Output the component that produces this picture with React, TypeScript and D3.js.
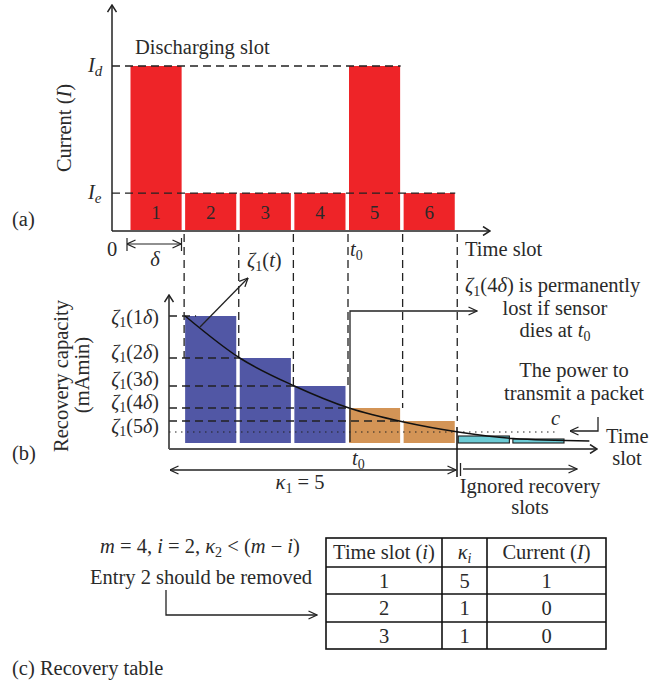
import * as d3 from 'd3';

// panel (a): current drawn in each time slot
const slots = [1, 2, 3, 4, 5, 6];
const slotCurrent = [1, 0.23, 0.23, 0.23, 1, 0.23];
const currentTickNames = ['d', 'e'];
const currentTickValues = [1, 0.23];

// panel (b): recovery capacity per slot
const recoverySlots = [2, 3, 4, 5, 6, 7, 8];
const recoveryValues = [133, 91, 63, 41, 28, 13, 10];
const recoveryKind = ['kept', 'kept', 'kept', 'lost', 'lost', 'ignored', 'ignored'];
const zetaNames = ['1', '2', '3', '4', '5'];
const zetaValues = [133, 91, 63, 41, 28];
const zetaLineEnds = [1.2, 2, 3, 4, 5];
const curveTimes = [1, 2, 3, 4, 5, 6, 7, 8.4];
const curveValues = [133, 91, 63, 41, 27, 17, 10.5, 8];
const guideTimes = [1, 2, 3, 4, 5, 6];
const guideEnds = [91, 91, 63, 63, 41, 28];
const packetCost = 17;

// panel (c): recovery table
const tableTimeSlot = ['1', '2', '3'];
const tableKappa = ['5', '1', '1'];
const tableCurrent = ['1', '0', '0'];

const INK = '#2a2a2a';
const FONT = "'Liberation Serif', 'Times New Roman', serif";
const kindColor: Record<string, string> = {
  kept: '#5157a5',
  lost: '#d39456',
  ignored: '#6ccbd5',
};

const slotX = d3.scaleLinear().domain([0, 8]).range([130.5, 567.5]);
const barW = slotX(1) - slotX(0) - 3.5;
const yA = d3.scaleLinear().domain([0, 1]).range([231, 66]);
const yB = d3.scaleLinear().domain([0, 160]).range([449, 289]);

// the zeta labels are spread apart so they do not collide
const zetaLabelBaselines = [324, 359, 386, 409, 433];
const dash = '8 5';

function Zeta({ x, y, k }: { x: number; y: number; k: string }) {
  return (
    <text x={x} y={y} textAnchor="end" fontSize={20}>
      <tspan fontStyle="italic">ζ</tspan>
      <tspan fontSize={14} dy={3}>1</tspan>
      <tspan dy={-3}>({k}</tspan>
      <tspan fontStyle="italic">δ</tspan>)
    </text>
  );
}

export default function App() {
  const curvePts = curveTimes.map((t, i) => [t, curveValues[i]] as [number, number]);
  const curve = d3
    .line<[number, number]>()
    .x((d) => slotX(d[0]))
    .y((d) => yB(d[1]))
    .curve(d3.curveMonotoneX);

  const colX = [326, 442, 487, 606];
  const rowY = [538, 567, 594, 622, 649];
  const tableRows = tableTimeSlot.map((s, i) => [s, tableKappa[i], tableCurrent[i]]);

  return (
    <svg
      width={670}
      height={684}
      style={{ position: 'absolute', left: 0, top: 0, background: '#fff' }}
      fontFamily={FONT}
      fontSize={20.5}
      fill={INK}
    >
      <defs>
        <marker id="arr" viewBox="0 0 10 10" refX="9.5" refY="5" markerWidth="10" markerHeight="10"
          markerUnits="userSpaceOnUse" orient="auto-start-reverse">
          <path d="M1,1 L9.5,5 L1,9" fill="none" stroke="#222" strokeWidth={1.3} />
        </marker>
        <marker id="axarr" viewBox="0 0 14 10" refX="13" refY="5" markerWidth="14" markerHeight="10"
          markerUnits="userSpaceOnUse" orient="auto-start-reverse">
          <path d="M6,0.5 L13,5 L6,9.5" fill="none" stroke="#222" strokeWidth={1.5} />
        </marker>
      </defs>

      {/* ---------- panel (a) ---------- */}
      {slots.map((s, i) => (
        <g key={s}>
          <rect x={slotX(s - 1)} y={yA(slotCurrent[i])} width={barW}
            height={yA(0) - 1 - yA(slotCurrent[i])} fill="#ee2428" />
          <text x={slotX(s - 1) + barW / 2} y={219} textAnchor="middle" fontSize={19}>{s}</text>
        </g>
      ))}
      <line x1={112} x2={slotX(5) - 3} y1={yA(currentTickValues[0])} y2={yA(currentTickValues[0])}
        stroke="#222" strokeWidth={1.3} strokeDasharray={dash} />
      <line x1={112} x2={slotX(6) - 3} y1={yA(currentTickValues[1])} y2={yA(currentTickValues[1])}
        stroke="#222" strokeWidth={1.3} strokeDasharray={dash} />
      {currentTickNames.map((n, i) => (
        <text key={n} x={88} y={yA(currentTickValues[i]) + 6}>
          <tspan fontStyle="italic">I</tspan>
          <tspan fontStyle="italic" fontSize={15} dy={4}>{n}</tspan>
        </text>
      ))}
      <line x1={112} y1={yA(0)} x2={112} y2={5} stroke="#222" strokeWidth={1.5} markerEnd="url(#axarr)" />
      <line x1={112} y1={yA(0)} x2={490} y2={yA(0)} stroke="#222" strokeWidth={1.5} markerEnd="url(#axarr)" />
      <text x={135} y={54}>Discharging slot</text>
      <text transform="translate(71,128) rotate(-90)" textAnchor="middle">
        Current (<tspan fontStyle="italic">I</tspan>)
      </text>
      <text x={12} y={226}>(a)</text>
      <text x={112} y={256} textAnchor="middle">0</text>
      <line x1={127} x2={127} y1={238} y2={251} stroke="#222" strokeWidth={1.2} />
      <line x1={127} x2={181} y1={244} y2={244} stroke="#222" strokeWidth={1.2}
        markerStart="url(#arr)" markerEnd="url(#arr)" />
      <line x1={181.5} x2={181.5} y1={238} y2={251} stroke="#222" strokeWidth={1.2} />
      <text x={155} y={266} textAnchor="middle" fontStyle="italic">δ</text>
      <text x={350} y={256}>
        <tspan fontStyle="italic">t</tspan>
        <tspan fontSize={14} dy={4}>0</tspan>
      </text>
      <text x={465} y={256}>Time slot</text>

      {/* ---------- panel (b) ---------- */}
      {recoverySlots.map((s, i) => (
        <rect key={s} x={slotX(s - 1)} y={yB(recoveryValues[i])} width={barW}
          height={yB(0) - 6 - yB(recoveryValues[i])} fill={kindColor[recoveryKind[i]]}
          stroke={recoveryKind[i] === 'ignored' ? '#1c1c1c' : 'none'} strokeWidth={1.1} />
      ))}
      {guideTimes.map((t, i) => (
        <line key={t} x1={slotX(t) - 1} x2={slotX(t) - 1} y1={234} y2={yB(guideEnds[i])}
          stroke="#222" strokeWidth={1.3} strokeDasharray={dash} />
      ))}
      {zetaValues.map((v, i) => (
        <g key={i}>
          <line x1={169} x2={slotX(zetaLineEnds[i])} y1={yB(v)} y2={yB(v)}
            stroke="#222" strokeWidth={1.3} strokeDasharray={dash} />
          <Zeta x={159} y={zetaLabelBaselines[i]} k={zetaNames[i]} />
        </g>
      ))}
      <line x1={169} x2={slotX(7.8)} y1={yB(packetCost)} y2={yB(packetCost)}
        stroke="#222" strokeWidth={1.2} strokeDasharray="1.5 4.5" />
      <path d={curve(curvePts) ?? ''} fill="none" stroke="#111" strokeWidth={1.5} />
      <line x1={169} y1={yB(0)} x2={169} y2={295} stroke="#333" strokeWidth={1.6} markerEnd="url(#axarr)" />
      <line x1={169} y1={yB(0)} x2={597} y2={yB(0)} stroke="#555" strokeWidth={2} markerEnd="url(#axarr)" />

      <text transform="translate(68,376) rotate(-90)" textAnchor="middle">Recovery capacity</text>
      <text transform="translate(89,375) rotate(-90)" textAnchor="middle">(mAmin)</text>
      <text x={12} y={460}>(b)</text>

      <line x1={200} y1={327} x2={248} y2={278} stroke="#222" strokeWidth={1.3} markerEnd="url(#arr)" />
      <text x={247} y={267}>
        <tspan fontStyle="italic">ζ</tspan>
        <tspan fontSize={14} dy={4}>1</tspan>
        <tspan dy={-4}>(</tspan>
        <tspan fontStyle="italic">t</tspan>)
      </text>

      <polyline points="350,442 350,311 477,311" fill="none" stroke="#222" strokeWidth={1.3} markerEnd="url(#arr)" />
      <text x={465} y={292}>
        <tspan fontStyle="italic">ζ</tspan>
        <tspan fontSize={14} dy={4}>1</tspan>
        <tspan dy={-4}>(4</tspan>
        <tspan fontStyle="italic">δ</tspan>) is permanently
      </text>
      <text x={555} y={315} textAnchor="middle">lost if sensor</text>
      <text x={555} y={337} textAnchor="middle">
        dies at <tspan fontStyle="italic">t</tspan>
        <tspan fontSize={14} dy={4}>0</tspan>
      </text>

      <text x={574} y={377} textAnchor="middle">The power to</text>
      <text x={574} y={400} textAnchor="middle">transmit a packet</text>
      <text x={551} y={425} fontStyle="italic">c</text>
      <polyline points="598,417 598,431 570,431" fill="none" stroke="#222" strokeWidth={1.3} markerEnd="url(#arr)" />
      <text x={606} y={443}>Time</text>
      <text x={627} y={465} textAnchor="middle">slot</text>

      <line x1={457} x2={457} y1={427} y2={477} stroke="#111" strokeWidth={1.5} />
      <text x={352} y={465}>
        <tspan fontStyle="italic">t</tspan>
        <tspan fontSize={14} dy={4}>0</tspan>
      </text>
      <line x1={170} x2={456} y1={470} y2={470} stroke="#222" strokeWidth={1.3}
        markerStart="url(#arr)" markerEnd="url(#arr)" />
      <text x={300} y={489} textAnchor="middle">
        <tspan fontStyle="italic">κ</tspan>
        <tspan fontSize={14} dy={4}>1</tspan>
        <tspan dy={-4}> = 5</tspan>
      </text>
      <line x1={460.5} x2={460.5} y1={463} y2={476} stroke="#222" strokeWidth={1.3} />
      <line x1={463} x2={577} y1={469} y2={469} stroke="#333" strokeWidth={1.5} markerEnd="url(#arr)" />
      <text x={530} y={493} textAnchor="middle">Ignored recovery</text>
      <text x={530} y={514} textAnchor="middle">slots</text>

      {/* ---------- panel (c) ---------- */}
      <text x={200} y={553} textAnchor="middle">
        <tspan fontStyle="italic">m</tspan> = 4, <tspan fontStyle="italic">i</tspan> = 2,{' '}
        <tspan fontStyle="italic">κ</tspan>
        <tspan fontSize={14} dy={4}>2</tspan>
        <tspan dy={-4}> &lt; (</tspan>
        <tspan fontStyle="italic">m</tspan> − <tspan fontStyle="italic">i</tspan>)
      </text>
      <text x={201} y={584} textAnchor="middle">Entry 2 should be removed</text>
      <polyline points="166,590 166,615 317,615" fill="none" stroke="#222" strokeWidth={1.3} markerEnd="url(#arr)" />

      <g>
        <text x={(colX[0] + colX[1]) / 2} y={559} textAnchor="middle">
          Time slot (<tspan fontStyle="italic">i</tspan>)
        </text>
        <text x={(colX[1] + colX[2]) / 2} y={559} textAnchor="middle">
          <tspan fontStyle="italic">κ</tspan>
          <tspan fontStyle="italic" fontSize={14} dy={4}>i</tspan>
        </text>
        <text x={(colX[2] + colX[3]) / 2} y={559} textAnchor="middle">
          Current (<tspan fontStyle="italic">I</tspan>)
        </text>
        {tableRows.map((row, r) =>
          row.map((v, c) => (
            <text key={`${r}-${c}`} x={(colX[c] + colX[c + 1]) / 2} y={(rowY[r + 1] + rowY[r + 2]) / 2 + 7}
              textAnchor="middle">{v}</text>
          ))
        )}
        <rect x={colX[0]} y={rowY[0]} width={colX[3] - colX[0]} height={rowY[4] - rowY[0]}
          fill="none" stroke="#111" strokeWidth={1.6} />
        {rowY.slice(1, 4).map((y) => (
          <line key={y} x1={colX[0]} x2={colX[3]} y1={y} y2={y} stroke="#111" strokeWidth={1.6} />
        ))}
        {colX.slice(1, 3).map((x) => (
          <line key={x} x1={x} x2={x} y1={rowY[0]} y2={rowY[4]} stroke="#111" strokeWidth={1.6} />
        ))}
      </g>
      <text x={12} y={675}>(c) Recovery table</text>
    </svg>
  );
}
